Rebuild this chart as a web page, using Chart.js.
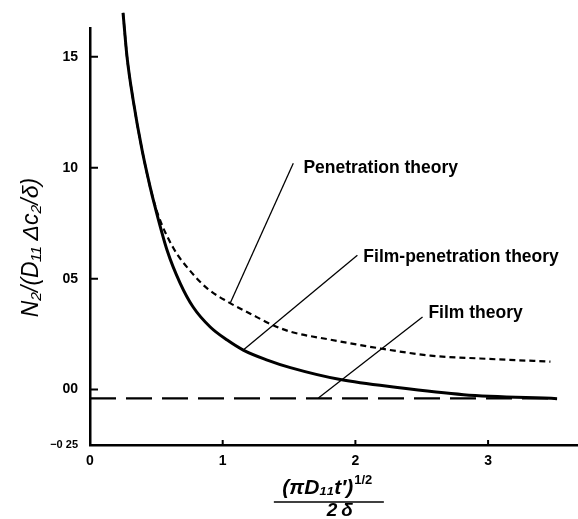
<!DOCTYPE html>
<html>
<head>
<meta charset="utf-8">
<script src="https://cdn.jsdelivr.net/npm/chart.js@4/dist/chart.umd.min.js"></script>
<style>
  html, body { margin: 0; padding: 0; background: #fff; }
  canvas { display: block; }
</style>
</head>
<body>
<canvas id="myChart" width="578" height="519"></canvas>
<script>
// film-penetration theory (solid)
const filmPenX = [0.249, 0.279, 0.325, 0.392, 0.453, 0.491, 0.581, 0.679, 0.777, 0.906, 1.034, 1.155, 1.336, 1.51, 1.887, 2.317, 2.815, 3.52];
const filmPenY = [1.698, 1.50, 1.306, 1.081, 0.914, 0.822, 0.628, 0.480, 0.372, 0.282, 0.223, 0.178, 0.133, 0.099, 0.045, 0.009, -0.023, -0.041];
// penetration theory (short dashes)
const penX = [0.249, 0.279, 0.325, 0.392, 0.453, 0.506, 0.626, 0.755, 0.883, 1.04, 1.208, 1.38, 1.51, 1.81, 2.19, 2.566, 2.94, 3.47];
const penY = [1.698, 1.50, 1.306, 1.081, 0.914, 0.80, 0.64, 0.535, 0.456, 0.395, 0.342, 0.29, 0.261, 0.225, 0.185, 0.153, 0.140, 0.126];
// film theory (long dashes)
const filmX = [0, 3.52];
const filmY = [-0.04, -0.04];

const xTicks = [0, 1, 2, 3];
const xTickLabels = ['0', '1', '2', '3'];
const yTicks = [-0.25, 0, 0.5, 1.0, 1.5];
const yTickLabels = ['\u22120 25', '00', '05', '10', '15'];

const pts = (xs, ys) => xs.map((v, i) => ({x: v, y: ys[i]}));

Chart.defaults.font.family = '"Liberation Sans", Arial, sans-serif';
Chart.defaults.color = '#000';

// labels with leader lines
const callouts = {
  id: 'callouts',
  afterDatasetsDraw(chart, args, opts) {
    const {ctx, scales: {x, y}} = chart;
    ctx.save();
    ctx.strokeStyle = '#000';
    ctx.fillStyle = '#000';
    ctx.lineWidth = 1.3;
    ctx.font = 'bold 17.5px "Liberation Sans", Arial, sans-serif';
    ctx.textBaseline = 'middle';
    opts.items.forEach(it => {
      ctx.beginPath();
      ctx.moveTo(x.getPixelForValue(it.from[0]), y.getPixelForValue(it.from[1]));
      ctx.lineTo(x.getPixelForValue(it.to[0]), y.getPixelForValue(it.to[1]));
      ctx.stroke();
      ctx.fillText(it.text, x.getPixelForValue(it.at[0]), y.getPixelForValue(it.at[1]));
    });
    ctx.restore();
  }
};

// tick marks pointing into the plot
const innerTicks = {
  id: 'innerTicks',
  afterDraw(chart) {
    const {ctx, chartArea: a, scales: {x, y}} = chart;
    ctx.save();
    ctx.strokeStyle = '#000';
    ctx.lineWidth = 2;
    ctx.beginPath();
    x.ticks.forEach(t => {
      if (t.value === 0) return;
      const px = x.getPixelForValue(t.value);
      ctx.moveTo(px, a.bottom);
      ctx.lineTo(px, a.bottom - 5);
    });
    y.ticks.forEach(t => {
      if (t.value === y.min) return;
      const py = y.getPixelForValue(t.value);
      ctx.moveTo(a.left, py);
      ctx.lineTo(a.left + 8, py);
    });
    ctx.stroke();
    ctx.restore();
  }
};

// axis titles: y rotated, x drawn as a fraction
const axisTitles = {
  id: 'axisTitles',
  afterDraw(chart) {
    const {ctx, chartArea: a, scales: {x, y}} = chart;
    ctx.save();
    ctx.fillStyle = '#000';
    ctx.strokeStyle = '#000';
    ctx.textBaseline = 'middle';

    ctx.save();
    ctx.translate(32, y.getPixelForValue(0.64));
    ctx.rotate(-Math.PI / 2);
    ctx.textAlign = 'center';
    ctx.font = 'italic 23px "Liberation Sans", Arial, sans-serif';
    ctx.fillText('N\u2082/(D\u2081\u2081 \u0394c\u2082/\u03b4)', 0, 0);
    ctx.restore();

    const cx = x.getPixelForValue(1.8);
    const main = '(\u03c0D\u2081\u2081t\u2032)';
    const sup = '1/2';
    ctx.font = 'bold italic 21px "Liberation Sans", Arial, sans-serif';
    const wm = ctx.measureText(main).width;
    ctx.font = 'bold 13px "Liberation Sans", Arial, sans-serif';
    const ws = ctx.measureText(sup).width;
    const left = cx - (wm + ws) / 2 - 2;
    ctx.textAlign = 'left';
    ctx.font = 'bold italic 21px "Liberation Sans", Arial, sans-serif';
    ctx.fillText(main, left, a.bottom + 43);
    ctx.font = 'bold 13px "Liberation Sans", Arial, sans-serif';
    ctx.fillText(sup, left + wm + 1, a.bottom + 35);
    ctx.lineWidth = 1.6;
    ctx.beginPath();
    ctx.moveTo(cx - 55, a.bottom + 57);
    ctx.lineTo(cx + 55, a.bottom + 57);
    ctx.stroke();
    ctx.font = 'bold italic 19px "Liberation Sans", Arial, sans-serif';
    ctx.textAlign = 'center';
    ctx.fillText('2\u2009\u03b4', cx + 11, a.bottom + 66);
    ctx.restore();
  }
};

const ctx = document.getElementById('myChart').getContext('2d');
const chart = new Chart(ctx, {
  type: 'scatter',
  data: {
    datasets: [
      {
        label: 'Film-penetration theory',
        data: pts(filmPenX, filmPenY),
        showLine: true,
        borderColor: '#000',
        borderWidth: 3,
        pointRadius: 0,
        cubicInterpolationMode: 'monotone',
        clip: false
      },
      {
        label: 'Penetration theory',
        data: pts(penX, penY),
        showLine: true,
        borderColor: '#000',
        borderWidth: 2.2,
        borderDash: [6, 4],
        pointRadius: 0,
        cubicInterpolationMode: 'monotone',
        clip: false
      },
      {
        label: 'Film theory',
        data: pts(filmX, filmY),
        showLine: true,
        borderColor: '#000',
        borderWidth: 2.2,
        borderDash: [26, 10],
        pointRadius: 0
      }
    ]
  },
  options: {
    responsive: false,
    animation: false,
    layout: { padding: { top: 28, right: 1, left: 0, bottom: 0 } },
    plugins: {
      legend: { display: false },
      tooltip: { enabled: false },
      callouts: {
        items: [
          { text: 'Penetration theory', at: [1.608, 1.0], from: [1.532, 1.02], to: [1.057, 0.39] },
          { text: 'Film-penetration theory', at: [2.06, 0.597], from: [2.015, 0.606], to: [1.155, 0.178] },
          { text: 'Film theory', at: [2.55, 0.345], from: [2.506, 0.327], to: [1.721, -0.038] }
        ]
      }
    },
    scales: {
      x: {
        type: 'linear',
        min: 0,
        max: 3.67,
        afterBuildTicks: s => { s.ticks = xTicks.map(v => ({value: v})); },
        afterFit: s => { s.height = 74; },
        grid: { display: false, drawTicks: false },
        border: { display: true, color: '#000', width: 2.5 },
        ticks: {
          padding: 8,
          font: { size: 14, weight: 'bold' },
          callback: v => xTickLabels[xTicks.indexOf(v)]
        }
      },
      y: {
        type: 'linear',
        min: -0.25,
        max: 1.63,
        afterBuildTicks: s => { s.ticks = yTicks.map(v => ({value: v})); },
        afterFit: s => { s.width = 90; },
        grid: { display: false, drawTicks: false },
        border: { display: true, color: '#000', width: 2.5 },
        ticks: {
          padding: 12,
          font: c => (c.tick && c.tick.value === -0.25) ? { size: 11, weight: 'bold' } : { size: 14, weight: 'bold' },
          callback: v => yTickLabels[yTicks.indexOf(v)]
        }
      }
    }
  },
  plugins: [callouts, innerTicks, axisTitles]
});
</script>
</body>
</html>
